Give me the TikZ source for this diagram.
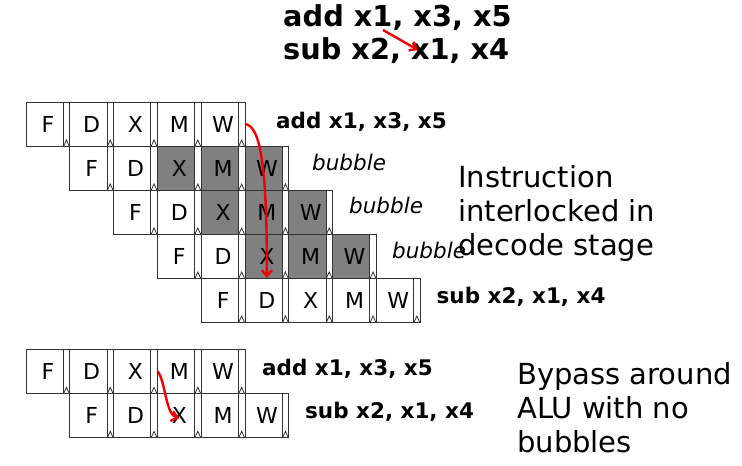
\documentclass[tikz,border=0pt]{standalone}
\usepackage{fontspec}
\setmainfont{DejaVu Sans}
\usepackage{xcolor}
\definecolor{cLine}{HTML}{333333}
\definecolor{cStall}{HTML}{808080}
\definecolor{cFwd}{HTML}{F00000}
\usepackage{tikz}
\usetikzlibrary{positioning,arrows.meta}
\tikzset{
  pipe-cell/.style={draw=cLine,line width=0.9pt,minimum width=43.8pt,
    minimum height=44pt,inner sep=0pt,outer sep=0pt,
    font=\fontsize{22}{26}\selectfont},
  latch/.style={draw=cLine,line width=0.7pt,fill=white},
  latch-clk/.style={draw=cLine,line width=0.8pt},
  row-label/.style={inner sep=0pt,anchor=base west,
    font=\fontsize{21.5}{25}\selectfont\bfseries},
  bubble-label/.style={inner sep=0pt,anchor=base west,
    font=\fontsize{21.5}{25}\selectfont\itshape},
  title-text/.style={inner sep=0pt,anchor=base west,
    font=\fontsize{28.8}{33}\selectfont\bfseries},
  note/.style={inner sep=0pt,anchor=north west,align=left,
    font=\fontsize{29}{34}\selectfont},
  fwd/.style={-{Straight Barb[length=6pt,width=10pt]},line width=2.4pt,draw=cFwd},
}

\begin{document}
\begin{tikzpicture}[x=1pt,y=-1pt]
  \useasboundingbox (0,0) rectangle (742,466);

  % dependent pair
  \node[title-text] (titleAdd) at (283,26) {add x1, x3, x5};
  \node[title-text] (titleSub) at (283,59) {sub x2, x1, x4};
  \coordinate (fwdSrc) at (383,30);
  \coordinate (fwdDst) at (418,50);
  \draw[fwd] (fwdSrc) -- (fwdDst);

  % interlocked pipeline: rows 1-3 stall in X/M/W
  \foreach \r in {0,...,4}{
    \foreach \s [count=\i from 0] in {F,D,X,M,W}{
      \pgfmathtruncatemacro\isstall{(\r>0)&&(\r<4)&&(\i>1)}
      \ifnum\isstall=1 \def\cellfill{cStall}\else\def\cellfill{white}\fi
      \node[pipe-cell,fill=\cellfill] (t\r\s) at ({47.9+(\r+\i)*43.8},{124+\r*44}) {\s};
      \draw[latch] ([xshift=-6.7pt]t\r\s.north east) rectangle (t\r\s.south east);
      \draw[latch-clk] ([xshift=-6.1pt]t\r\s.south east) -- ++(2.75,-6) -- ++(2.75,6);
    }
  }
  \node[row-label] (lblAddT) at (276,128) {add x1, x3, x5};
  \node[bubble-label] (bub1) at (312,170) {bubble};
  \node[bubble-label] (bub2) at (349,213) {bubble};
  \node[bubble-label] (bub3) at (392,258) {bubble};
  \node[row-label] (lblSubT) at (436.5,303) {sub x2, x1, x4};
  \node[note] (noteStall) at (458,165) {Instruction\\interlocked in\\decode stage};
  \draw[fwd] (t0W.east) .. controls +(16,2) and +(0,-110) .. (t4D.north);

  % bypass pipeline
  \foreach \r in {0,1}{
    \foreach \s [count=\i from 0] in {F,D,X,M,W}{
      \node[pipe-cell,fill=white] (b\r\s) at ({47.9+(\r+\i)*43.8},{371.3+\r*44}) {\s};
      \draw[latch] ([xshift=-6.7pt]b\r\s.north east) rectangle (b\r\s.south east);
      \draw[latch-clk] ([xshift=-6.1pt]b\r\s.south east) -- ++(2.75,-6) -- ++(2.75,6);
    }
  }
  \node[row-label] (lblAddB) at (262,375) {add x1, x3, x5};
  \node[row-label] (lblSubB) at (305,418.5) {sub x2, x1, x4};
  \node[note] (noteBypass) at (517,362) {Bypass around\\ALU with no\\bubbles};
  \draw[fwd] (b0X.east) .. controls +(8,8) and +(-14,-4) .. ([yshift=-3pt]b1X.center);
\end{tikzpicture}
\end{document}
